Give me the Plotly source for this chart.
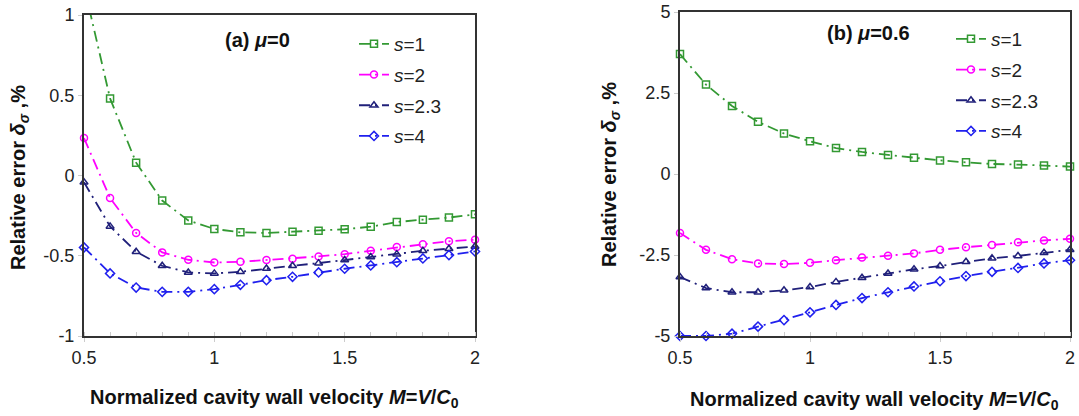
import plotly.graph_objects as go

M = [0.5, 0.6, 0.7, 0.8, 0.9, 1.0, 1.1, 1.2, 1.3, 1.4, 1.5, 1.6, 1.7, 1.8, 1.9, 2.0]

# (a) mu = 0
a_s1 = [1.18, 0.48, 0.08, -0.156, -0.28, -0.333, -0.354, -0.358, -0.35, -0.344, -0.335, -0.319, -0.29, -0.275, -0.262, -0.242]
a_s2 = [0.233, -0.14, -0.358, -0.479, -0.525, -0.542, -0.538, -0.527, -0.519, -0.504, -0.49, -0.469, -0.446, -0.429, -0.41, -0.40]
a_s23 = [-0.042, -0.317, -0.475, -0.5625, -0.604, -0.61, -0.60, -0.579, -0.5625, -0.546, -0.527, -0.508, -0.49, -0.469, -0.456, -0.442]
a_s4 = [-0.448, -0.61, -0.698, -0.725, -0.725, -0.708, -0.681, -0.652, -0.631, -0.604, -0.581, -0.56, -0.54, -0.517, -0.496, -0.473]

# (b) mu = 0.6
b_s1 = [3.70, 2.76, 2.10, 1.61, 1.25, 1.01, 0.80, 0.68, 0.59, 0.50, 0.42, 0.36, 0.31, 0.29, 0.26, 0.23]
b_s2 = [-1.82, -2.34, -2.63, -2.76, -2.78, -2.74, -2.66, -2.58, -2.52, -2.45, -2.34, -2.26, -2.19, -2.11, -2.05, -2.00]
b_s23 = [-3.18, -3.52, -3.65, -3.65, -3.59, -3.49, -3.33, -3.20, -3.07, -2.94, -2.84, -2.71, -2.60, -2.53, -2.43, -2.34]
b_s4 = [-5.0, -5.0, -4.93, -4.71, -4.51, -4.27, -4.04, -3.83, -3.65, -3.47, -3.31, -3.15, -3.02, -2.90, -2.76, -2.66]

names = ["<i>s</i>=1", "<i>s</i>=2", "<i>s</i>=2.3", "<i>s</i>=4"]
colors = ["#339933", "#ff00ff", "#20207a", "#2020ee"]
symbols = ["square-open", "circle-open", "triangle-up-open", "diamond-open"]

x_ticks = [0.5, 1, 1.5, 2]
x_ticklabels = ["0.5", "1", "1.5", "2"]
ya_ticks = [-1, -0.5, 0, 0.5, 1]
ya_ticklabels = ["-1", "-0.5", "0", "0.5", "1"]
yb_ticks = [-5, -2.5, 0, 2.5, 5]
yb_ticklabels = ["-5", "-2.5", "0", "2.5", "5"]

FONT = "Liberation Sans, Arial, sans-serif"
W, H = 1079, 416

fig = go.Figure()
dash = "11px,5px,2px,5px"

for i, ys in enumerate([a_s1, a_s2, a_s23, a_s4]):
    fig.add_trace(go.Scatter(
        x=M, y=ys, mode="lines+markers", name=names[i],
        line=dict(color=colors[i], width=1.8, dash=dash),
        marker=dict(symbol=symbols[i], size=7, color=colors[i], line=dict(width=1.5, color=colors[i])),
        xaxis="x", yaxis="y", legend="legend", legendgroup="a%d" % i,
        cliponaxis=(i == 0),
    ))
for i, ys in enumerate([b_s1, b_s2, b_s23, b_s4]):
    fig.add_trace(go.Scatter(
        x=M, y=ys, mode="lines+markers", name=names[i],
        line=dict(color=colors[i], width=1.8, dash=dash),
        marker=dict(symbol=symbols[i], size=7, color=colors[i], line=dict(width=1.5, color=colors[i])),
        xaxis="x2", yaxis="y2", legend="legend2", legendgroup="b%d" % i,
        cliponaxis=False,
    ))

def px_x(p):
    return p / W

def px_y(p):
    return (H - p) / H

ax_common = dict(
    showline=True, linecolor="#333333", linewidth=2, mirror=True,
    showgrid=False, zeroline=False, automargin=False,
    tickfont=dict(family=FONT, size=18, color="#222222"),
    ticks="outside", ticklen=4, tickcolor="#cccccc",
)

fig.update_layout(
    template="none",
    width=W, height=H,
    margin=dict(l=0, r=0, t=0, b=0, autoexpand=False),
    paper_bgcolor="white", plot_bgcolor="white",
    font=dict(family=FONT, color="#222222"),
    xaxis=dict(domain=[px_x(84), px_x(475)], range=[0.5, 2], anchor="y",
               tickvals=x_ticks, ticktext=x_ticklabels,
               minor=dict(dtick=0.1, ticks="inside", ticklen=4, tickcolor="#cccccc"),
               **ax_common),
    yaxis=dict(domain=[px_y(336), px_y(15)], range=[-1, 1], anchor="x",
               tickvals=ya_ticks, ticktext=ya_ticklabels, **ax_common),
    xaxis2=dict(domain=[px_x(680), px_x(1070)], range=[0.5, 2], anchor="y2",
                tickvals=x_ticks, ticktext=x_ticklabels,
                minor=dict(dtick=0.1, ticks="inside", ticklen=4, tickcolor="#cccccc"),
                **ax_common),
    yaxis2=dict(domain=[px_y(336), px_y(12)], range=[-5, 5], anchor="x2",
                tickvals=yb_ticks, ticktext=yb_ticklabels, **ax_common),
    legend=dict(x=px_x(354), y=px_y(25), xanchor="left", yanchor="top",
                bgcolor="rgba(0,0,0,0)", borderwidth=0,
                font=dict(family=FONT, size=19, color="#222222"),
                traceorder="grouped", tracegroupgap=3),
    legend2=dict(x=px_x(951), y=px_y(20), xanchor="left", yanchor="top",
                 bgcolor="rgba(0,0,0,0)", borderwidth=0,
                 font=dict(family=FONT, size=19, color="#222222"),
                 traceorder="grouped", tracegroupgap=3),
    showlegend=True,
)

title_font = dict(family=FONT, size=20, color="#111111")
xtitle = "<b>Normalized cavity wall velocity <i>M</i>=<i>V</i>/<i>C</i><sub>0</sub></b>"
ytitle = "<b>Relative error <i>δ<sub>σ</sub></i> ,%</b>"

fig.add_annotation(text=xtitle, xref="paper", yref="paper", x=px_x(274), y=px_y(398),
                   showarrow=False, font=title_font, xanchor="center", yanchor="middle")
fig.add_annotation(text=xtitle, xref="paper", yref="paper", x=px_x(874), y=px_y(400),
                   showarrow=False, font=title_font, xanchor="center", yanchor="middle")
fig.add_annotation(text=ytitle, xref="paper", yref="paper", x=px_x(19), y=px_y(178),
                   showarrow=False, font=title_font, textangle=-90, xanchor="center", yanchor="middle")
fig.add_annotation(text=ytitle, xref="paper", yref="paper", x=px_x(611), y=px_y(175),
                   showarrow=False, font=title_font, textangle=-90, xanchor="center", yanchor="middle")
fig.add_annotation(text="<b>(a) <i>μ</i>=0</b>", xref="paper", yref="paper", x=px_x(257), y=px_y(40),
                   showarrow=False, font=dict(family=FONT, size=20, color="#111111"),
                   xanchor="center", yanchor="middle")
fig.add_annotation(text="<b>(b) <i>μ</i>=0.6</b>", xref="paper", yref="paper", x=px_x(868), y=px_y(33),
                   showarrow=False, font=dict(family=FONT, size=20, color="#111111"),
                   xanchor="center", yanchor="middle")

fig.write_html("out.html", config={"displayModeBar": False},
               post_script="document.body.style.margin='0';document.body.style.overflow='hidden';")
